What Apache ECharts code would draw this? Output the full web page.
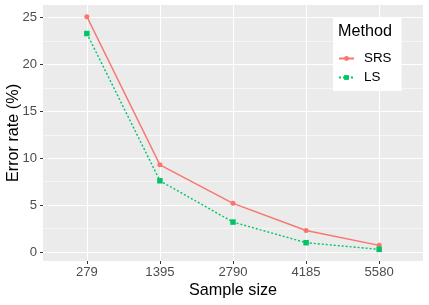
<!DOCTYPE html>
<html>
<head>
<meta charset="utf-8">
<script src="https://cdn.jsdelivr.net/npm/echarts@6/dist/echarts.min.js"></script>
<style>
html,body{margin:0;padding:0;background:#fff;}
#chart{width:429px;height:305px;}
</style>
</head>
<body>
<div id="chart"></div>
<script>
var categories = ['279', '1395', '2790', '4185', '5580'];
var srsValues = [25.1, 9.3, 5.2, 2.3, 0.72];
var lsValues = [23.3, 7.6, 3.2, 1.0, 0.29];
var yTicks = [0, 5, 10, 15, 20, 25];
var yMinorTicks = [2.5, 7.5, 12.5, 17.5, 22.5];
var seriesNames = ['SRS', 'LS'];
var legendTitle = 'Method';
var xTitle = 'Sample size';
var yTitle = 'Error rate (%)';

var allVals = srsValues.concat(lsValues);
var dMin = Math.min.apply(null, allVals), dMax = Math.max.apply(null, allVals);
var pad = (dMax - dMin) * 0.05;
var yMin = dMin - pad, yMax = dMax + pad;
var xIdx = categories.map(function (c, i) { return i; });

function pairs(vals) { return vals.map(function (v, i) { return [i, v]; }); }

var font = '"Liberation Sans", Arial, Helvetica, sans-serif';
var chart = echarts.init(document.getElementById('chart'), null, {renderer: 'canvas'});
chart.setOption({
  animation: false,
  backgroundColor: '#ffffff',
  textStyle: {fontFamily: font},
  grid: {left: 43, right: 6, top: 5, bottom: 44, show: true, backgroundColor: '#EBEBEB', borderWidth: 0,
    containLabel: false, outerBoundsMode: 'none'},
  title: {
    text: legendTitle, left: 338, top: 24, padding: 0, z: 10,
    textStyle: {fontFamily: font, fontSize: 16.2, fontWeight: 'normal', color: '#000'}
  },
  legend: {
    data: seriesNames, orient: 'vertical', left: 333, top: 17,
    padding: [33, 10, 5, 5], itemGap: 2, itemWidth: 15, itemHeight: 6,
    backgroundColor: '#ffffff', borderWidth: 0,
    textStyle: {fontFamily: font, fontSize: 13.4, color: '#000', lineHeight: 17, padding: [0, 0, 0, 5]}
  },
  xAxis: {
    type: 'value', min: -0.6, max: categories.length - 0.4,
    name: xTitle, nameLocation: 'middle', nameGap: 22, nameMoveOverlap: false,
    nameTextStyle: {fontFamily: font, fontSize: 16.2, color: '#000'},
    axisLine: {show: false, onZero: false},
    axisTick: {show: true, length: 3, customValues: xIdx, lineStyle: {color: '#333333', width: 1}},
    axisLabel: {customValues: xIdx, margin: 5, fontFamily: font, fontSize: 13.1, color: '#4D4D4D',
      formatter: function (v) { return categories[Math.round(v)]; }},
    splitLine: {show: true, lineStyle: {color: '#ffffff', width: 1.1}}
  },
  yAxis: [{
    type: 'value', min: yMin, max: yMax,
    name: yTitle, nameLocation: 'middle', nameGap: 21, nameRotate: 90, nameMoveOverlap: false,
    nameTextStyle: {fontFamily: font, fontSize: 16.2, color: '#000'},
    axisLine: {show: false, onZero: false},
    axisTick: {show: true, length: 3, customValues: yTicks, lineStyle: {color: '#333333', width: 1}},
    axisLabel: {customValues: yTicks, margin: 6, fontFamily: font, fontSize: 13.1, color: '#4D4D4D'},
    splitLine: {show: true, lineStyle: {color: '#ffffff', width: 1.1}},
    z: 1
  }, {
    type: 'value', min: yMin, max: yMax, position: 'left',
    axisLine: {show: false, onZero: false},
    axisTick: {show: false, customValues: yMinorTicks},
    axisLabel: {show: false, customValues: yMinorTicks},
    splitLine: {show: true, lineStyle: {color: '#ffffff', width: 0.55}},
    z: 0
  }],
  series: [{
    name: seriesNames[0], type: 'line', data: pairs(srsValues),
    symbol: 'circle', symbolSize: 5, showSymbol: true,
    lineStyle: {color: '#F8766D', width: 1.4, type: 'solid'},
    itemStyle: {color: '#F8766D'}, z: 3
  }, {
    name: seriesNames[1], type: 'line', data: pairs(lsValues),
    symbol: 'rect', symbolSize: 5.5, showSymbol: true,
    lineStyle: {color: '#00C466', width: 1.4, type: [2, 2]},
    itemStyle: {color: '#00C466'}, z: 3
  }]
});
</script>
</body>
</html>
